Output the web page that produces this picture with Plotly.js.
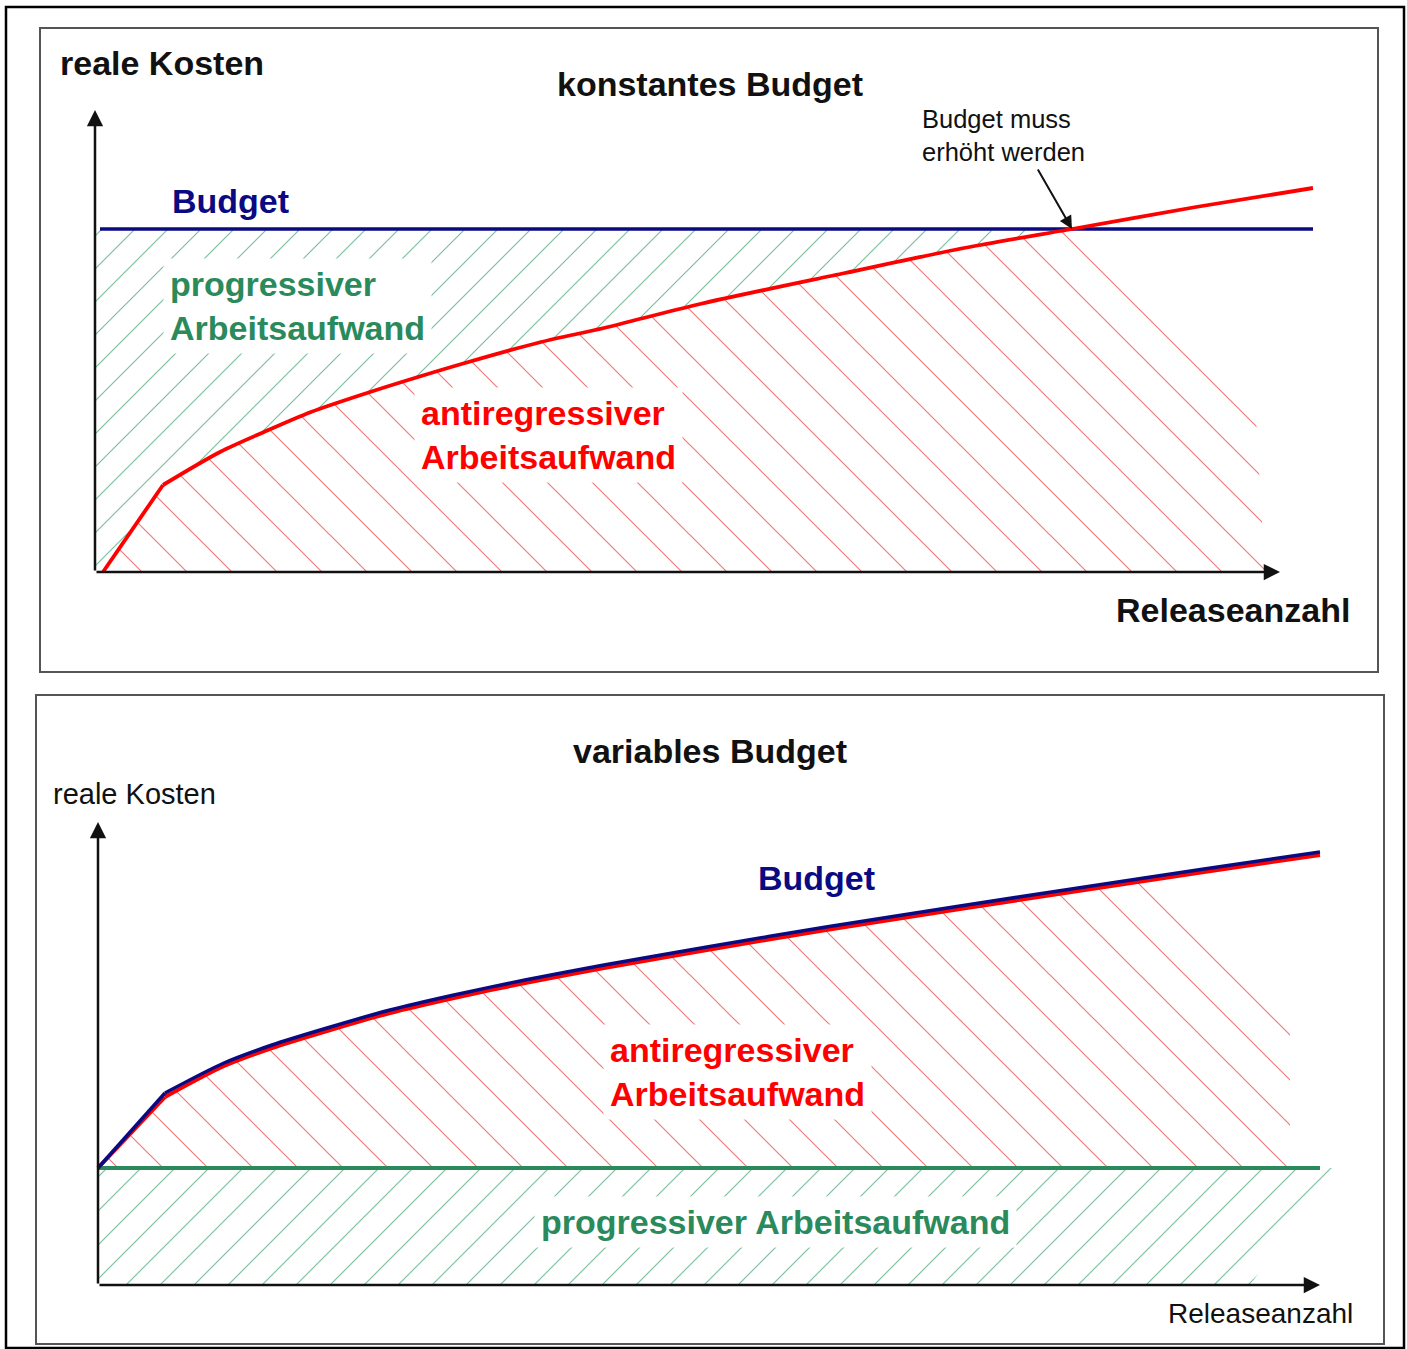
<!DOCTYPE html>
<html><head><meta charset="utf-8">
<script src="https://cdn.plot.ly/plotly-3.0.1.min.js"></script>
<style>html,body{margin:0;padding:0;background:#fff}#chart{width:1407px;height:1349px}</style>
</head><body><div id="chart"></div>
<script>
// ---------- DATA: top panel "konstantes Budget" ----------
const releasesTop = [0.08, 0.68, 1.25, 1.69, 2.16, 2.72, 3.23, 3.70, 4.46, 5.09, 6.05, 7.50, 8.69, 9.77, 11.01, 12.18];
const costTop     = [0.00, 0.87, 1.20, 1.40, 1.60, 1.79, 1.95, 2.09, 2.30, 2.44, 2.68, 2.99, 3.24, 3.43, 3.65, 3.84];
const budgetTopX = [0.05, 12.18];
const budgetTopLevel = 3.43;
const crossIndexTop = 13;               // cost reaches budget here ("Budget muss erhöht werden")
const redHatchTopEdgeX = [11.6, 11.7];  // right edge of the antiregressive hatch
const redHatchTopEdgeY = [1.7, 0];

// ---------- DATA: bottom panel "variables Budget" ----------
const releasesBottom = [0, 0.67, 1.26, 1.74, 2.29, 2.92, 3.56, 4.27, 5.06, 6.09, 7.28, 8.62, 9.80, 11.06, 12.22];
const budgetBottom   = [1.17, 1.92, 2.22, 2.40, 2.57, 2.75, 2.90, 3.05, 3.20, 3.38, 3.58, 3.79, 3.97, 4.16, 4.33];
const costBottom     = [1.17, 1.88, 2.19, 2.37, 2.54, 2.72, 2.87, 3.02, 3.17, 3.35, 3.55, 3.76, 3.94, 4.13, 4.30];
const progressiveLevelBottom = 1.17;
const progressiveBottomX = [0, 12.22];
const greenHatchBottomEdgeX = [12.37, 11.52];
const redHatchBottomLastIndex = 12;
const redHatchBottomEdgeX = [10.6, 11.92, 11.92];
const redHatchBottomEdgeY = [4.06, 2.85, 1.17];
const kneeIndex = 1;                    // sharp bend after the first release

// ---------- labels ----------
const titleTop = 'konstantes Budget';
const titleBottom = 'variables Budget';
const yLabel = 'reale Kosten';
const xLabel = 'Releaseanzahl';
const budgetLabel = 'Budget';
const progLabel = 'progressiver Arbeitsaufwand';
const antiLabel = 'antiregressiver Arbeitsaufwand';
const noteLabel = 'Budget muss<br>erhöht werden';

// ---------- styles ----------
const W = 1407, H = 1349;
const FONT = 'Liberation Sans, Arial, sans-serif';
const NAVY = '#0a0a82', RED = '#ff0000', GREEN = '#2a8a5c';
const RED_HATCH = '#f07a7a', GREEN_HATCH = '#7cbf9e';
const px = v => v / W;
const py = v => 1 - v / H;

// ---------- polygons built from the data ----------
const gTopX = [0, budgetTopX[0], releasesTop[crossIndexTop]];
const gTopY = [budgetTopLevel, budgetTopLevel, budgetTopLevel];
for (let i = crossIndexTop; i >= 0; i--) { gTopX.push(releasesTop[i]); gTopY.push(costTop[i]); }
gTopX.push(0); gTopY.push(0);
const rTopX = releasesTop.slice(0, crossIndexTop + 1).concat(redHatchTopEdgeX, [releasesTop[0]]);
const rTopY = costTop.slice(0, crossIndexTop + 1).concat(redHatchTopEdgeY, [0]);
const gBotX = [0, greenHatchBottomEdgeX[0], greenHatchBottomEdgeX[1], 0];
const gBotY = [progressiveLevelBottom, progressiveLevelBottom, 0, 0];
const rBotX = releasesBottom.slice(0, redHatchBottomLastIndex + 1).concat(redHatchBottomEdgeX, [0]);
const rBotY = costBottom.slice(0, redHatchBottomLastIndex + 1).concat(redHatchBottomEdgeY, [progressiveLevelBottom]);

function hatch(x, y, xa, ya, shape, color, spacing) {
  const size = spacing / Math.SQRT2;
  return {x, y, xaxis: xa, yaxis: ya, type: 'scatter', mode: 'lines', fill: 'toself',
    line: {width: 0, color: 'rgba(0,0,0,0)'}, fillcolor: 'rgba(0,0,0,0)',
    fillpattern: {shape, size, solidity: 1.2 / size, fgcolor: color, bgcolor: 'rgba(0,0,0,0)', fgopacity: 1},
    hoverinfo: 'skip', showlegend: false};
}
function line(x, y, xa, ya, color, w, smooth) {
  const ln = {color, width: w};
  if (smooth) { ln.shape = 'spline'; ln.smoothing = 0.8; }
  return {x, y, xaxis: xa, yaxis: ya, type: 'scatter', mode: 'lines',
    line: ln, hoverinfo: 'skip', showlegend: false};
}
// curve = straight first segment + smooth remainder
function curve(x, y, xa, ya, color, w) {
  return [
    line(x.slice(0, kneeIndex + 1), y.slice(0, kneeIndex + 1), xa, ya, color, w, false),
    line(x.slice(kneeIndex), y.slice(kneeIndex), xa, ya, color, w, true)
  ];
}

const traces = [
  hatch(gTopX, gTopY, 'x', 'y', '/', GREEN_HATCH, 33),
  hatch(rTopX, rTopY, 'x', 'y', '\\', RED_HATCH, 45),
  line(budgetTopX, [budgetTopLevel, budgetTopLevel], 'x', 'y', NAVY, 3.5, false),
  ...curve(releasesTop, costTop, 'x', 'y', RED, 3.8),
  hatch(gBotX, gBotY, 'x2', 'y2', '/', GREEN_HATCH, 34),
  hatch(rBotX, rBotY, 'x2', 'y2', '\\', RED_HATCH, 45),
  line(progressiveBottomX, [progressiveLevelBottom, progressiveLevelBottom], 'x2', 'y2', GREEN, 4, false),
  ...curve(releasesBottom, costBottom, 'x2', 'y2', RED, 4),
  ...curve(releasesBottom, budgetBottom, 'x2', 'y2', NAVY, 3.5)
];

function txt(text, x, y, opts) {
  return Object.assign({text, x: px(x), y: py(y), xref: 'paper', yref: 'paper', showarrow: false,
    xanchor: 'left', yanchor: 'middle', align: 'left',
    font: {family: FONT, size: 34, color: '#111', weight: 700}}, opts || {});
}
function arrow(xa, ya, x0, y0, x1, y1, w, s) {
  return {text: '', xref: xa, yref: ya, axref: xa, ayref: ya, x: x1, y: y1, ax: x0, ay: y0,
    showarrow: true, arrowhead: 2, arrowsize: s, arrowwidth: w, arrowcolor: '#111', standoff: 0, startstandoff: 0};
}
const bold = (size, color) => ({family: FONT, size, color, weight: 700});
const reg = (size, color) => ({family: FONT, size, color, weight: 400});

const annotations = [
  txt(yLabel, 58, 63),
  txt(titleTop, 710, 84, {xanchor: 'center'}),
  txt(noteLabel, 920, 136, {font: reg(25.5, '#111')}),
  txt(budgetLabel, 170, 201, {font: bold(34, NAVY)}),
  txt(progLabel.replace(' ', '<br>'), 163, 306, {font: bold(34, GREEN), bgcolor: '#fff', borderpad: 6}),
  txt(antiLabel.replace(' ', '<br>'), 414, 435, {font: bold(34, RED), bgcolor: '#fff', borderpad: 6}),
  txt(xLabel, 1352, 610, {xanchor: 'right'}),
  arrow('x', 'y', 0, 0, 0, 4.62, 2.5, 1.3),
  arrow('x', 'y', 0, 0, 11.85, 0, 2.5, 1.3),
  arrow('x', 'y', 9.42, 4.04, releasesTop[crossIndexTop], budgetTopLevel, 2, 1.3),
  txt(titleBottom, 710, 751, {xanchor: 'center'}),
  txt(yLabel, 51, 794, {font: reg(29, '#111')}),
  txt(budgetLabel, 756, 878, {font: bold(34, NAVY)}),
  txt(antiLabel.replace(' ', '<br>'), 603, 1072, {font: bold(34, RED), bgcolor: '#fff', borderpad: 6}),
  txt(progLabel, 534, 1222, {font: bold(34, GREEN), bgcolor: '#fff', borderpad: 6}),
  txt(xLabel, 1355, 1313, {xanchor: 'right', font: reg(28, '#111')}),
  arrow('x2', 'y2', 0, 0, 0, 4.63, 2.5, 1.3),
  arrow('x2', 'y2', 0, 0, 12.22, 0, 2.5, 1.3)
];

const shapes = [
  {type: 'rect', xref: 'paper', yref: 'paper', x0: px(6), x1: px(1404), y0: py(7), y1: py(1348), line: {color: '#000', width: 2.5}},
  {type: 'rect', xref: 'paper', yref: 'paper', x0: px(40), x1: px(1378), y0: py(28), y1: py(672), line: {color: '#555', width: 2}},
  {type: 'rect', xref: 'paper', yref: 'paper', x0: px(36), x1: px(1384), y0: py(695), y1: py(1344), line: {color: '#555', width: 2}}
];

const hidden = {visible: false, showgrid: false, zeroline: false, fixedrange: true};
const layout = {
  width: W, height: H, margin: {l: 0, r: 0, t: 0, b: 0},
  paper_bgcolor: '#fff', plot_bgcolor: 'rgba(0,0,0,0)', showlegend: false,
  xaxis: Object.assign({domain: [px(60), px(1370)], range: [-0.35, 12.75]}, hidden),
  yaxis: Object.assign({domain: [py(660), py(40)], range: [-0.88, 5.32]}, hidden),
  xaxis2: Object.assign({domain: [px(60), px(1370)], range: [-0.38, 12.72], anchor: 'y2'}, hidden),
  yaxis2: Object.assign({domain: [py(1340), py(705)], range: [-0.55, 5.80], anchor: 'x2'}, hidden),
  annotations, shapes
};

Plotly.newPlot('chart', traces, layout, {displayModeBar: false, staticPlot: true});
</script></body></html>
